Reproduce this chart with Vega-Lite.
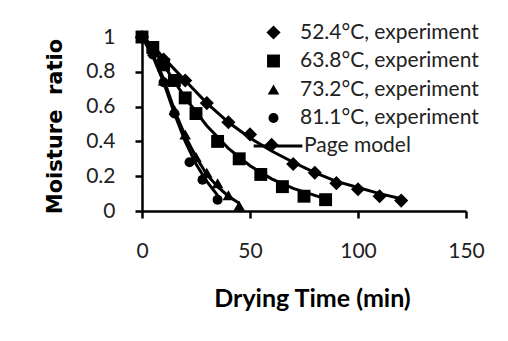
{
  "$schema": "https://vega.github.io/schema/vega-lite/v6.json",
  "width": 324,
  "height": 174,
  "autosize": {"type": "none"},
  "padding": {"left": 142, "top": 37, "right": 42, "bottom": 130},
  "background": "white",
  "config": {
    "view": {"stroke": null},
    "font": "Lato",
    "axis": {"grid": false, "labelFlush": false, "domainColor": "black", "domainWidth": 2.5, "tickColor": "black", "tickWidth": 2.5, "tickSize": 7, "labelFont": "Lato", "labelFontSize": 21, "labelColor": "#222", "titleFont": "Lato", "titleFontSize": 25, "titleFontWeight": "bold", "titleColor": "black"},
    "legend": {"labelLimit": 400, "labelFont": "Lato", "labelFontSize": 21, "labelColor": "#222"}
  },
  "datasets": {
    "points": [
      {"series": "52.4°C, experiment", "t": 0, "mr": 1.0},
      {"series": "52.4°C, experiment", "t": 10, "mr": 0.87},
      {"series": "52.4°C, experiment", "t": 20, "mr": 0.75},
      {"series": "52.4°C, experiment", "t": 30, "mr": 0.62},
      {"series": "52.4°C, experiment", "t": 40, "mr": 0.51},
      {"series": "52.4°C, experiment", "t": 50, "mr": 0.44},
      {"series": "52.4°C, experiment", "t": 60, "mr": 0.38},
      {"series": "52.4°C, experiment", "t": 70, "mr": 0.27},
      {"series": "52.4°C, experiment", "t": 80, "mr": 0.22},
      {"series": "52.4°C, experiment", "t": 90, "mr": 0.16},
      {"series": "52.4°C, experiment", "t": 100, "mr": 0.125},
      {"series": "52.4°C, experiment", "t": 110, "mr": 0.085},
      {"series": "52.4°C, experiment", "t": 120, "mr": 0.06},
      {"series": "63.8°C, experiment", "t": 0, "mr": 1.0},
      {"series": "63.8°C, experiment", "t": 5, "mr": 0.94},
      {"series": "63.8°C, experiment", "t": 10, "mr": 0.84},
      {"series": "63.8°C, experiment", "t": 15, "mr": 0.75},
      {"series": "63.8°C, experiment", "t": 20, "mr": 0.65},
      {"series": "63.8°C, experiment", "t": 25, "mr": 0.56},
      {"series": "63.8°C, experiment", "t": 35, "mr": 0.40},
      {"series": "63.8°C, experiment", "t": 45, "mr": 0.30},
      {"series": "63.8°C, experiment", "t": 55, "mr": 0.21},
      {"series": "63.8°C, experiment", "t": 65, "mr": 0.14},
      {"series": "63.8°C, experiment", "t": 75, "mr": 0.085},
      {"series": "63.8°C, experiment", "t": 85, "mr": 0.065},
      {"series": "73.2°C, experiment", "t": 0, "mr": 1.0},
      {"series": "73.2°C, experiment", "t": 5, "mr": 0.92},
      {"series": "73.2°C, experiment", "t": 10, "mr": 0.75},
      {"series": "73.2°C, experiment", "t": 15, "mr": 0.58},
      {"series": "73.2°C, experiment", "t": 20, "mr": 0.44},
      {"series": "73.2°C, experiment", "t": 25, "mr": 0.31},
      {"series": "73.2°C, experiment", "t": 30, "mr": 0.22},
      {"series": "73.2°C, experiment", "t": 35, "mr": 0.16},
      {"series": "73.2°C, experiment", "t": 40, "mr": 0.09},
      {"series": "73.2°C, experiment", "t": 45, "mr": 0.03},
      {"series": "81.1°C, experiment", "t": 0, "mr": 1.0},
      {"series": "81.1°C, experiment", "t": 5, "mr": 0.9},
      {"series": "81.1°C, experiment", "t": 10, "mr": 0.74},
      {"series": "81.1°C, experiment", "t": 15, "mr": 0.56},
      {"series": "81.1°C, experiment", "t": 22, "mr": 0.28},
      {"series": "81.1°C, experiment", "t": 28, "mr": 0.18},
      {"series": "81.1°C, experiment", "t": 35, "mr": 0.065}
    ],
    "curves": [
      {"series": "52.4", "model": "Page model", "t": 0, "mr": 1.0},
      {"series": "52.4", "model": "Page model", "t": 5, "mr": 0.95},
      {"series": "52.4", "model": "Page model", "t": 10, "mr": 0.88},
      {"series": "52.4", "model": "Page model", "t": 20, "mr": 0.75},
      {"series": "52.4", "model": "Page model", "t": 30, "mr": 0.62},
      {"series": "52.4", "model": "Page model", "t": 40, "mr": 0.51},
      {"series": "52.4", "model": "Page model", "t": 50, "mr": 0.42},
      {"series": "52.4", "model": "Page model", "t": 60, "mr": 0.345},
      {"series": "52.4", "model": "Page model", "t": 70, "mr": 0.28},
      {"series": "52.4", "model": "Page model", "t": 80, "mr": 0.22},
      {"series": "52.4", "model": "Page model", "t": 90, "mr": 0.17},
      {"series": "52.4", "model": "Page model", "t": 100, "mr": 0.135},
      {"series": "52.4", "model": "Page model", "t": 110, "mr": 0.10},
      {"series": "52.4", "model": "Page model", "t": 120, "mr": 0.07},
      {"series": "63.8", "model": "Page model", "t": 0, "mr": 1.0},
      {"series": "63.8", "model": "Page model", "t": 5, "mr": 0.94},
      {"series": "63.8", "model": "Page model", "t": 10, "mr": 0.84},
      {"series": "63.8", "model": "Page model", "t": 20, "mr": 0.65},
      {"series": "63.8", "model": "Page model", "t": 30, "mr": 0.49},
      {"series": "63.8", "model": "Page model", "t": 40, "mr": 0.36},
      {"series": "63.8", "model": "Page model", "t": 50, "mr": 0.26},
      {"series": "63.8", "model": "Page model", "t": 60, "mr": 0.185},
      {"series": "63.8", "model": "Page model", "t": 70, "mr": 0.13},
      {"series": "63.8", "model": "Page model", "t": 85, "mr": 0.07},
      {"series": "73.2", "model": "Page model", "t": 0, "mr": 1.0},
      {"series": "73.2", "model": "Page model", "t": 5, "mr": 0.9},
      {"series": "73.2", "model": "Page model", "t": 10, "mr": 0.76},
      {"series": "73.2", "model": "Page model", "t": 15, "mr": 0.58},
      {"series": "73.2", "model": "Page model", "t": 20, "mr": 0.43},
      {"series": "73.2", "model": "Page model", "t": 25, "mr": 0.31},
      {"series": "73.2", "model": "Page model", "t": 30, "mr": 0.21},
      {"series": "73.2", "model": "Page model", "t": 35, "mr": 0.14},
      {"series": "73.2", "model": "Page model", "t": 40, "mr": 0.085},
      {"series": "73.2", "model": "Page model", "t": 45, "mr": 0.045},
      {"series": "81.1", "model": "Page model", "t": 0, "mr": 1.0},
      {"series": "81.1", "model": "Page model", "t": 5, "mr": 0.89},
      {"series": "81.1", "model": "Page model", "t": 10, "mr": 0.74},
      {"series": "81.1", "model": "Page model", "t": 15, "mr": 0.56},
      {"series": "81.1", "model": "Page model", "t": 20, "mr": 0.40},
      {"series": "81.1", "model": "Page model", "t": 25, "mr": 0.27},
      {"series": "81.1", "model": "Page model", "t": 30, "mr": 0.17},
      {"series": "81.1", "model": "Page model", "t": 35, "mr": 0.09}
    ]
  },
  "encoding": {
    "x": {"field": "t", "type": "quantitative", "scale": {"domain": [0, 150], "nice": false}, "axis": {"values": [0, 50, 100, 150], "title": "Drying Time (min)", "labelPadding": 22, "titleX": 170, "titleY": 87, "titleAlign": "center", "titleBaseline": "middle", "titleAnchor": null}},
    "y": {"field": "mr", "type": "quantitative", "scale": {"domain": [0, 1], "nice": false}, "axis": {"values": [0, 0.2, 0.4, 0.6, 0.8, 1], "format": "~g", "title": "Moisture\u00a0 ratio", "titleFont": "DejaVu Sans", "titleFontSize": 21, "labelPadding": 20, "titleX": -87, "titleY": 89, "titleAlign": "center", "titleBaseline": "middle", "titleAngle": -90, "titleAnchor": null}}
  },
  "layer": [
    {
      "data": {"name": "curves"},
      "mark": {"type": "line", "strokeWidth": 3},
      "encoding": {
        "detail": {"field": "series"},
        "stroke": {"field": "model", "type": "nominal", "scale": {"range": ["black"]}, "legend": {"orient": "none", "legendX": 110, "legendY": 83, "title": null, "symbolType": "stroke", "symbolSize": 2370, "symbolStrokeWidth": 3, "labelOffset": 0}}
      }
    },
    {
      "data": {"name": "points"},
      "mark": {"type": "point", "filled": true, "color": "black", "opacity": 1},
      "encoding": {
        "shape": {"field": "series", "type": "nominal", "scale": {"domain": ["52.4°C, experiment", "63.8°C, experiment", "73.2°C, experiment", "81.1°C, experiment"], "range": ["diamond", "square", "triangle-up", "circle"]}, "legend": {"orient": "none", "legendX": 121, "legendY": -15, "title": null, "symbolFillColor": "black", "symbolStrokeColor": "black", "rowPadding": 6.5, "labelOffset": 16}},
        "size": {"field": "series", "type": "nominal", "scale": {"domain": ["52.4°C, experiment", "63.8°C, experiment", "73.2°C, experiment", "81.1°C, experiment"], "range": [200, 100, 260, 150]}, "legend": {"orient": "none", "legendX": 121, "legendY": -15, "title": null, "symbolFillColor": "black", "symbolStrokeColor": "black", "rowPadding": 6.5, "labelOffset": 16}}
      }
    }
  ]
}
